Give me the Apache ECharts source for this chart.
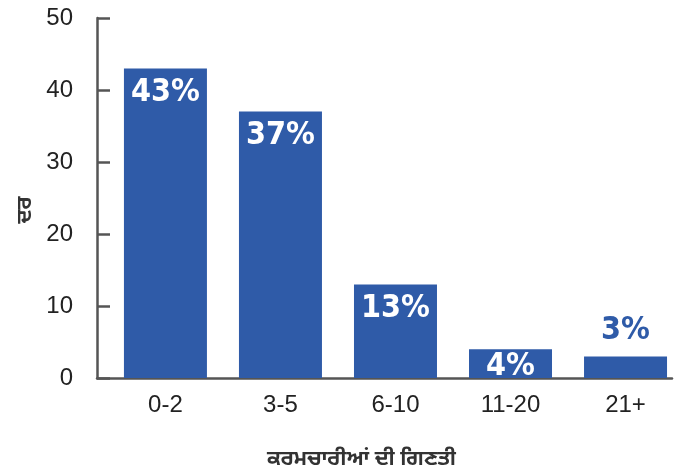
<!DOCTYPE html>
<html><head><meta charset="utf-8">
<script src="https://cdn.jsdelivr.net/npm/echarts@6/dist/echarts.min.js"></script>
<style>html,body{margin:0;padding:0;background:#fff}#c{width:678px;height:476px}</style>
</head><body><div id="c"></div>
<script>
const categories = ['0-2', '3-5', '6-10', '11-20', '21+'];
const values = [43, 37, 13, 4, 3];
const pctLabels = ['43%', '37%', '13%', '4%', '3%'];
const yTicks = [0, 10, 20, 30, 40, 50];
const xName = 'ਕਰਮਚਾਰੀਆਂ ਦੀ ਗਿਣਤੀ';
const yName = 'ਦਰ';

const barColor = '#2f5ba8';
const axisColor = '#555555';
const labelFont = '"DejaVu Sans Condensed","Liberation Sans Narrow",sans-serif';

const chart = echarts.init(document.getElementById('c'), null, {renderer: 'canvas'});
const data = values.map((v, i) => {
  const d = {value: [i, v]};
  if (v >= 5) {
    d.label = {position: 'insideTop', distance: 8, color: '#ffffff'};
  } else if (i === 3) {
    d.label = {position: 'insideTop', distance: 1, color: '#ffffff'};
  } else {
    d.label = {position: 'top', distance: 10, color: barColor};
  }
  return d;
});

chart.setOption({
  animation: false,
  grid: {left: 97, right: 6, top: 18, bottom: 98, containLabel: false},
  xAxis: {
    type: 'value',
    min: -0.595,
    max: 4.404,
    splitLine: {show: false},
    axisLine: {show: true, onZero: false, lineStyle: {color: axisColor, width: 2.5}},
    axisTick: {show: false},
    axisLabel: {
      customValues: [0, 1, 2, 3, 4],
      formatter: v => categories[Math.round(v)],
      fontSize: 24, color: '#222', margin: 15,
      fontFamily: '"Liberation Sans",Arial,sans-serif'
    },
    name: xName,
    nameLocation: 'middle',
    nameGap: 71,
    nameTextStyle: {fontSize: 21, fontWeight: 'bold', color: '#333',
      fontFamily: '"Noto Sans","Noto Sans Gurmukhi",sans-serif', padding: [0, 46, 0, 0]}
  },
  yAxis: {
    type: 'value',
    min: 0, max: 50, interval: 10,
    splitLine: {show: false},
    axisLine: {show: true, onZero: false, lineStyle: {color: axisColor, width: 2.5}},
    axisTick: {show: true, inside: true, length: 13, lineStyle: {color: axisColor, width: 2.5}},
    axisLabel: {fontSize: 24, color: '#222', margin: 24,
      fontFamily: '"Liberation Sans",Arial,sans-serif',
      formatter: v => yTicks.includes(v) ? String(v) : ''},
    name: yName,
    nameLocation: 'middle',
    nameGap: 60,
    nameRotate: 90,
    nameTextStyle: {fontSize: 21, fontWeight: 'bold', color: '#333',
      fontFamily: '"Noto Sans","Noto Sans Gurmukhi",sans-serif', padding: [0, 24, 0, 0]}
  },
  series: [{
    type: 'bar',
    data: data,
    barWidth: 83,
    itemStyle: {color: barColor},
    label: {
      show: true,
      formatter: p => pctLabels[p.dataIndex],
      fontSize: 32,
      fontWeight: 'bold',
      fontFamily: labelFont
    }
  }]
});
</script></body></html>
